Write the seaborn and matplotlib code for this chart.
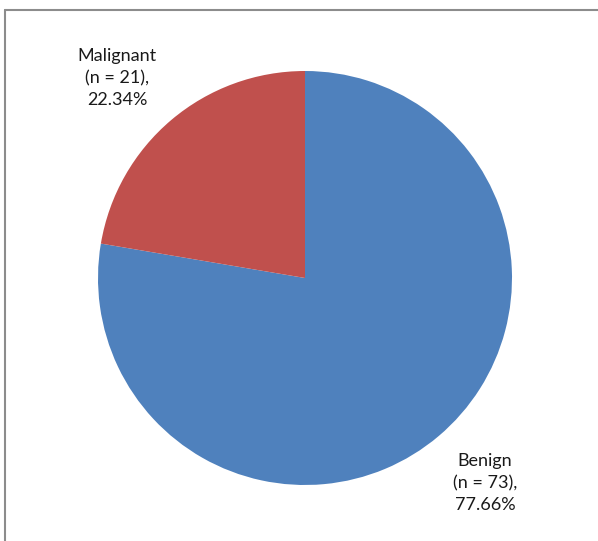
import matplotlib
matplotlib.use("Agg")
import matplotlib.pyplot as plt
from matplotlib.lines import Line2D
import seaborn as sns

# -------------------------
# Data
# -------------------------
categories = ["Benign", "Malignant"]
counts = [73, 21]
percents = ["77.66%", "22.34%"]
colors = ["#4F81BD", "#C0504D"]

# -------------------------
# Config
# -------------------------
sns.set_theme(style="white")
plt.rcParams["font.family"] = ["Lato", "DejaVu Sans"]

W, H = 598, 541
fig = plt.figure(figsize=(W / 100, H / 100), dpi=100)
ax = fig.add_axes([0, 0, 1, 1])

labels = [f"{c}\n(n = {n}),\n{p}" for c, n, p in zip(categories, counts, percents)]

wedges, texts = ax.pie(
    counts,
    colors=colors,
    startangle=90,
    counterclock=False,
    center=(305, H - 278),
    radius=207,
    wedgeprops=dict(linewidth=0),
    frame=True,
)
ax.set_xlim(0, W)
ax.set_ylim(0, H)
ax.set_aspect("auto")
ax.axis("off")

# label positions (pixels from top-left)
label_pos = [(485, 483), (117, 78)]
for lab, (x, y) in zip(labels, label_pos):
    ax.text(x, H - y, lab, ha="center", va="center", multialignment="center",
            fontsize=13, color="#1a1a1a", linespacing=1.42)

# chart frame (left and top edges visible)
fig.add_artist(Line2D([5 / W, 5 / W], [0, 1 - 9.5 / H], color="#8c8c8c", lw=1.5))
fig.add_artist(Line2D([5 / W, 1], [1 - 9.5 / H, 1 - 9.5 / H], color="#8c8c8c", lw=1.5))

fig.savefig("out.png", dpi=100)
plt.close()
